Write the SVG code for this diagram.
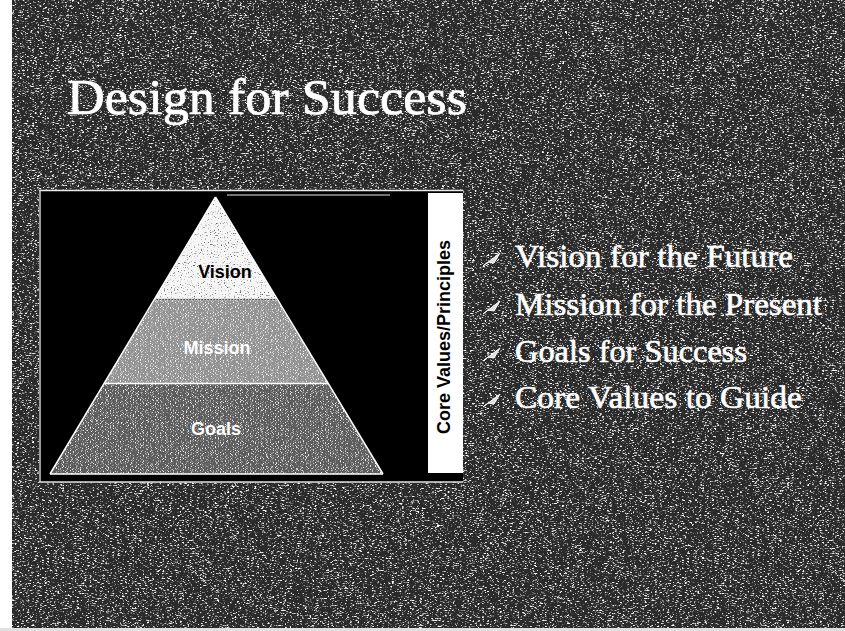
<svg xmlns="http://www.w3.org/2000/svg" width="845" height="631" viewBox="0 0 845 631">
  <defs>
    <filter id="speckle" x="0" y="0" width="100%" height="100%" color-interpolation-filters="sRGB">
      <feTurbulence type="fractalNoise" baseFrequency="0.4 1.4" numOctaves="2" seed="4" result="n"/>
      <feColorMatrix in="n" type="matrix" values="0 0 0 0 1  0 0 0 0 1  0 0 0 0 1  5 0 0 0 -2.75" result="s"/>
      <feComposite in="s" in2="SourceGraphic" operator="in" result="sc"/>
      <feMerge><feMergeNode in="SourceGraphic"/><feMergeNode in="sc"/></feMerge>
    </filter>
    <filter id="speckleLight" x="0" y="0" width="100%" height="100%" color-interpolation-filters="sRGB">
      <feTurbulence type="fractalNoise" baseFrequency="0.6 1.0" numOctaves="2" seed="7" result="n"/>
      <feColorMatrix in="n" type="matrix" values="0 0 0 0 1  0 0 0 0 1  0 0 0 0 1  5 0 0 0 -2.6" result="s"/>
      <feComposite in="s" in2="SourceGraphic" operator="in" result="sc"/>
      <feMerge><feMergeNode in="SourceGraphic"/><feMergeNode in="sc"/></feMerge>
    </filter>
    <filter id="speckleDark" x="0" y="0" width="100%" height="100%" color-interpolation-filters="sRGB">
      <feTurbulence type="fractalNoise" baseFrequency="0.7 0.9" numOctaves="2" seed="9" result="n"/>
      <feColorMatrix in="n" type="matrix" values="0 0 0 0 0.4  0 0 0 0 0.4  0 0 0 0 0.4  5 0 0 0 -3.0" result="s"/>
      <feComposite in="s" in2="SourceGraphic" operator="in" result="sc"/>
      <feMerge><feMergeNode in="SourceGraphic"/><feMergeNode in="sc"/></feMerge>
    </filter>
    <style>
      .title { font-family: "Liberation Serif", "Times New Roman", serif; font-size: 50px; fill: #ffffff; stroke: #ffffff; stroke-width: 0.7px; }
      .bullet { font-family: "Liberation Serif", "Times New Roman", serif; font-size: 32px; fill: #ffffff; stroke: #ffffff; stroke-width: 0.6px; }
      .lbl { font-family: "Liberation Sans", Arial, sans-serif; font-weight: bold; font-size: 18px; text-anchor: middle; }
      .arrow { fill: #e0e0e0; stroke: #ffffff; stroke-width: 1; stroke-linejoin: round; }
      .edge { stroke: #ffffff; stroke-width: 1.5; fill: none; }
    </style>
  </defs>

  <g id="background">
    <rect x="0" y="0" width="845" height="631" fill="#2a2a2a" filter="url(#speckle)"/>
    <rect x="0" y="0" width="12" height="631" fill="#ffffff"/>
    <rect x="0" y="628" width="845" height="3" fill="#e0e0e0"/>
  </g>

  <g id="title">
    <text class="title" x="67" y="114" textLength="400" lengthAdjust="spacingAndGlyphs">Design for Success</text>
  </g>

  <g id="picture">
    <rect x="39" y="190" width="424" height="292" fill="#000000"/>
    <line x1="39" y1="190.5" x2="463" y2="190.5" stroke="#e8e8e8" stroke-width="1.5"/>
    <line x1="40" y1="190" x2="40" y2="482" stroke="#cfcfcf" stroke-width="1.5"/>
    <line x1="39" y1="482" x2="463" y2="482" stroke="#e0e0e0" stroke-width="1.5"/>
    <line x1="227" y1="195" x2="390" y2="195" stroke="#9a9a9a" stroke-width="1.5"/>
  </g>

  <g id="core-values">
    <rect x="428" y="193" width="35" height="280" fill="#ffffff"/>
    <text class="lbl" fill="#000000" transform="translate(450 337) rotate(-90)" x="0" y="0">Core Values/Principles</text>
  </g>

  <g id="goals">
    <polygon points="104.4,384 328,384 383,474 50,474" fill="#5c5c5c" filter="url(#speckleLight)"/>
    <text class="lbl" fill="#ffffff" x="216" y="435">Goals</text>
  </g>

  <g id="mission">
    <polygon points="154.6,300 277.2,300 328,383 104.4,383" fill="#929292" filter="url(#speckleLight)"/>
    <text class="lbl" fill="#ffffff" x="217" y="354">Mission</text>
  </g>

  <g id="vision">
    <polygon points="215.5,197 277.2,299 154.6,299" fill="#f6f6f6" filter="url(#speckleDark)"/>
    <text class="lbl" fill="#000000" x="225" y="278">Vision</text>
  </g>

  <g id="pyramid-lines">
    <line class="edge" x1="104.4" y1="383.5" x2="328" y2="383.5"/>
    <line x1="154.6" y1="299.5" x2="277.2" y2="299.5" stroke="#bdbdbd" stroke-width="2" stroke-dasharray="2 1"/>
    <line class="edge" x1="50" y1="474" x2="383" y2="474"/>
    <line class="edge" x1="215.5" y1="197" x2="50" y2="474"/>
    <line class="edge" x1="215.5" y1="197" x2="383" y2="474"/>
  </g>

  <g id="bullets">
    <g id="b1">
      <polygon class="arrow" points="483,266 500,253 494,263 488,262"/>
      <text class="bullet" x="515" y="267" textLength="278" lengthAdjust="spacingAndGlyphs">Vision for the Future</text>
    </g>
    <g id="b2">
      <polygon class="arrow" points="483,314 500,301 494,311 488,310"/>
      <text class="bullet" x="515" y="315" textLength="307" lengthAdjust="spacingAndGlyphs">Mission for the Present</text>
    </g>
    <g id="b3">
      <polygon class="arrow" points="483,361 500,348 494,358 488,357"/>
      <text class="bullet" x="515" y="362" textLength="232" lengthAdjust="spacingAndGlyphs">Goals for Success</text>
    </g>
    <g id="b4">
      <polygon class="arrow" points="483,407 500,394 494,404 488,403"/>
      <text class="bullet" x="515" y="408" textLength="287" lengthAdjust="spacingAndGlyphs">Core Values to Guide</text>
    </g>
  </g>
</svg>
